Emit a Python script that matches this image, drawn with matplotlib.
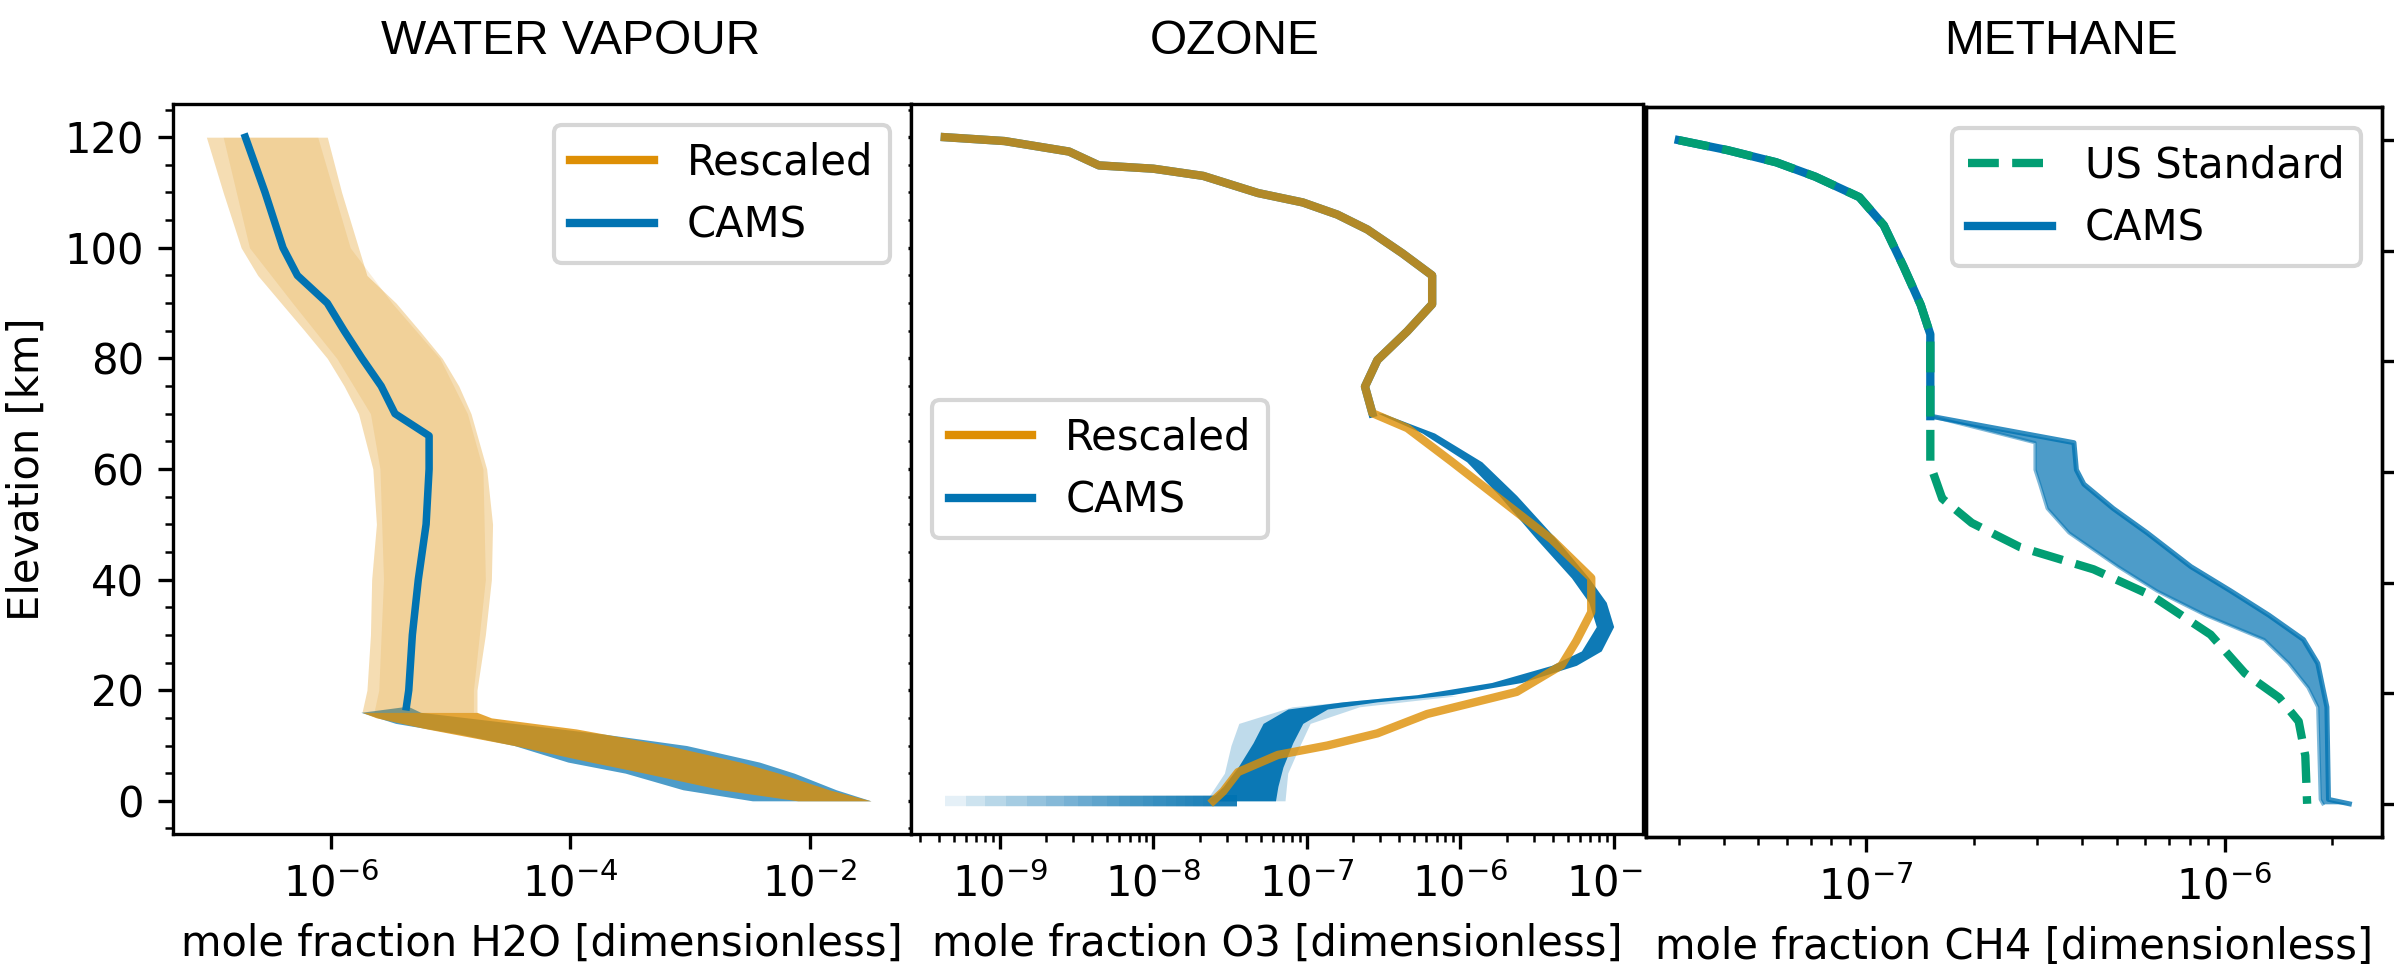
import matplotlib
matplotlib.use("Agg")
import matplotlib.pyplot as plt
from matplotlib.ticker import MultipleLocator, NullLocator
from matplotlib.lines import Line2D
from matplotlib.patches import Rectangle

BLUE = "#0173B2"
ORANGE = "#DE8F05"
GREEN = "#029E73"

# ---------------- water vapour ----------------
# CAMS profile above the tropopause (all members nearly identical)
h2o_cams_km = [120, 110, 100, 95, 90, 85, 80, 75, 70, 66, 60, 50, 40, 30, 20, 17]
h2o_cams = [1.93e-7, 2.82e-7, 3.98e-7, 5.25e-7, 9.33e-7, 1.29e-6, 1.82e-6, 2.63e-6,
            3.43e-6, 6.61e-6, 6.61e-6, 6.24e-6, 5.37e-6, 4.79e-6, 4.47e-6, 4.27e-6]
# CAMS spread in the troposphere
h2o_cams_low_km = [17, 16, 14, 12, 10, 7, 5, 2, 0]
h2o_cams_low_lo = [4.0e-6, 1.78e-6, 3.47e-6, 1.23e-5, 3.39e-5, 9.55e-5, 2.88e-4, 8.71e-4, 3.31e-3]
h2o_cams_low_hi = [4.5e-6, 5.62e-6, 3.39e-5, 2.00e-4, 9.33e-4, 3.80e-3, 7.41e-3, 1.66e-2, 3.24e-2]
# rescaled ensemble: outer envelope and denser core
h2o_resc_km = [120, 110, 100, 95, 90, 85, 80, 75, 70, 60, 50, 40, 30, 20, 16]
h2o_resc_lo = [9.12e-8, 1.26e-7, 1.78e-7, 2.45e-7, 3.84e-7, 6.03e-7, 9.33e-7, 1.29e-6,
               1.70e-6, 2.24e-6, 2.40e-6, 2.19e-6, 2.14e-6, 2.00e-6, 1.82e-6]
h2o_resc_hi = [9.33e-7, 1.23e-6, 1.70e-6, 2.00e-6, 3.50e-6, 5.50e-6, 8.51e-6, 1.17e-5,
               1.48e-5, 2.00e-5, 2.24e-5, 2.19e-5, 1.95e-5, 1.66e-5, 1.66e-5]
h2o_core_km = [120, 100, 90, 80, 70, 60, 40, 20, 16]
h2o_core_lo = [1.26e-7, 2.09e-7, 4.79e-7, 1.12e-6, 2.14e-6, 2.57e-6, 2.75e-6, 2.51e-6, 2.29e-6]
h2o_core_hi = [7.76e-7, 1.45e-6, 3.24e-6, 8.13e-6, 1.38e-5, 1.86e-5, 1.95e-5, 1.55e-5, 1.55e-5]
h2o_resc_low_km = [16, 15, 13, 10, 7, 5, 2, 0]
h2o_resc_low_lo = [1.82e-6, 2.40e-6, 6.31e-6, 3.39e-5, 1.48e-4, 4.17e-4, 1.82e-3, 7.94e-3]
h2o_resc_low_hi = [1.66e-5, 2.19e-5, 1.12e-4, 6.46e-4, 2.63e-3, 5.50e-3, 1.45e-2, 3.24e-2]

# ---------------- ozone ----------------
o3_resc_km = [120.0, 119.3, 117.4, 114.9, 114.3, 113.0, 109.9, 108.2, 106.0, 103.3, 99.0,
              95.0, 89.8, 84.9, 79.7, 74.9, 70.1, 67.4, 61.3, 54.3, 47.3, 40.3, 34.1,
              28.9, 24.5, 19.7, 15.7, 12.2, 10.0, 8.3, 5.2, 1.7, 0.0]
o3_resc = [4.37e-10, 1.07e-9, 2.82e-9, 4.41e-9, 1.00e-8, 2.11e-8, 4.80e-8, 9.40e-8,
           1.58e-7, 2.48e-7, 4.19e-7, 6.55e-7, 6.55e-7, 4.51e-7, 2.88e-7, 2.39e-7,
           2.67e-7, 4.51e-7, 8.81e-7, 1.86e-6, 3.93e-6, 7.13e-6, 7.13e-6, 5.70e-6,
           4.56e-6, 2.33e-6, 6.08e-7, 2.88e-7, 1.36e-7, 6.47e-8, 3.56e-8, 2.85e-8, 2.45e-8]
o3_cams_km = [70.1, 66.5, 61.3, 55.2, 47.3, 40.3, 35.9, 31.5, 27.1, 24.5, 21.4, 19.2,
              17.9, 16.6, 14.0, 10.5, 6.1, 2.6, 0.0]
o3_cams_lo = [2.88e-7, 5.64e-7, 1.10e-6, 1.79e-6, 3.14e-6, 5.30e-6, 6.87e-6, 7.69e-6,
              6.15e-6, 3.93e-6, 1.60e-6, 5.24e-7, 1.71e-7, 7.52e-8, 5.18e-8, 4.46e-8,
              3.56e-8, 2.85e-8, 2.28e-8]
o3_cams_hi = [3.10e-7, 6.79e-7, 1.38e-6, 2.33e-6, 4.23e-6, 6.87e-6, 8.93e-6, 9.98e-6,
              8.28e-6, 5.70e-6, 2.51e-6, 8.83e-7, 2.88e-7, 1.36e-7, 9.40e-8, 8.09e-8,
              6.98e-8, 6.47e-8, 6.24e-8]
o3_fuzz_km = [0, 5, 10, 14, 17, 19]
o3_fuzz_lo = [2.2e-8, 2.9e-8, 3.2e-8, 3.6e-8, 8.0e-8, 4.5e-7]
o3_fuzz_hi = [7.2e-8, 7.5e-8, 9.0e-8, 1.05e-7, 2.2e-7, 9.5e-7]
# surface values of the members with very little ozone
o3_surface_low = [4.4e-10, 6e-10, 8e-10, 1.1e-9, 1.5e-9, 2e-9, 2.6e-9, 3.2e-9, 4e-9, 5e-9,
                  6e-9, 7e-9, 8.5e-9, 1e-8, 1.2e-8, 1.4e-8, 1.6e-8, 1.8e-8, 2.1e-8, 2.4e-8]
o3_surface_top = 3.5e-8

# ---------------- methane ----------------
ch4_std_km = [120, 118.2, 116.0, 113.4, 109.7, 104.6, 97.2, 90.2, 84.9, 70.1, 61.3, 55.2,
              50.8, 46.4, 42.4, 37.6, 30.6, 23.6, 19.2, 14.9, 8.7, 0]
ch4_std = [3.00e-8, 4.10e-8, 5.61e-8, 7.21e-8, 9.57e-8, 1.12e-7, 1.27e-7, 1.42e-7, 1.51e-7,
           1.51e-7, 1.51e-7, 1.63e-7, 1.97e-7, 2.69e-7, 4.31e-7, 6.28e-7, 9.14e-7, 1.14e-6,
           1.42e-6, 1.61e-6, 1.68e-6, 1.70e-6]
ch4_cams_km = [70.1, 65.3, 60.4, 57.8, 53.4, 49.0, 42.9, 38.5, 34.1, 29.7, 25.4, 21.0, 17.5, 0.8, 0.0]
ch4_cams_lo = [1.51e-7, 2.96e-7, 2.96e-7, 3.05e-7, 3.20e-7, 3.68e-7, 5.04e-7, 6.47e-7, 8.85e-7,
               1.29e-6, 1.51e-6, 1.71e-6, 1.82e-6, 1.85e-6, 1.88e-6]
ch4_cams_hi = [1.51e-7, 3.80e-7, 3.86e-7, 4.05e-7, 4.89e-7, 6.08e-7, 8.05e-7, 1.04e-6, 1.33e-6,
               1.66e-6, 1.82e-6, 1.88e-6, 1.93e-6, 1.95e-6, 2.23e-6]

titles = ["WATER VAPOUR", "OZONE", "METHANE"]
xlabels = ["mole fraction H2O [dimensionless]", "mole fraction O3 [dimensionless]",
           "mole fraction CH4 [dimensionless]"]

W, H = 2394, 964
fig = plt.figure(figsize=(W / 300, H / 300), dpi=300)


def box(x0, x1, y0, y1):
    return [x0 / W, 1 - y1 / H, (x1 - x0) / W, (y1 - y0) / H]


ax1 = fig.add_axes(box(173, 911, 104, 834))
ax2 = fig.add_axes(box(911, 1643, 104, 834))
ax3 = fig.add_axes(box(1646, 2382, 107, 837))

# water vapour
ax1.fill_betweenx(h2o_core_km, h2o_core_lo, h2o_core_hi, color=ORANGE, alpha=0.15, lw=0)
ax1.plot(h2o_cams, h2o_cams_km, color=BLUE, lw=1.8)
ax1.fill_betweenx(h2o_cams_low_km, h2o_cams_low_lo, h2o_cams_low_hi, color=BLUE, alpha=0.7, lw=0)
ax1.fill_betweenx(h2o_resc_km, h2o_resc_lo, h2o_resc_hi, color=ORANGE, alpha=0.3, lw=0)
ax1.fill_betweenx(h2o_resc_low_km, h2o_resc_low_lo, h2o_resc_low_hi, color=ORANGE, alpha=0.8, lw=0)
ax1.set_xscale("log")
ax1.set_xlim(4.8e-8, 7.0e-2)
ax1.set_xticks([1e-6, 1e-4, 1e-2])
ax1.xaxis.set_minor_locator(NullLocator())
ax1.set_ylabel("Elevation [km]")

# ozone
up = [k >= 70 for k in o3_resc_km]
ax2.plot([v for v, u in zip(o3_resc, up) if u], [k for k, u in zip(o3_resc_km, up) if u],
         color=BLUE, lw=2)
ax2.fill_betweenx(o3_fuzz_km, o3_fuzz_lo, o3_fuzz_hi, color=BLUE, alpha=0.25, lw=0)
ax2.fill_betweenx(o3_cams_km, o3_cams_lo, o3_cams_hi, color=BLUE, alpha=0.95, lw=0)
for v in o3_surface_low:
    ax2.plot([v, o3_surface_top], [0, 0], color=BLUE, lw=2.5, alpha=0.1, solid_capstyle="butt")
ax2.plot(o3_resc, o3_resc_km, color=ORANGE, lw=2, alpha=0.8)
ax2.set_xscale("log")
ax2.set_xlim(2.63e-10, 1.55e-5)
ax2.tick_params(axis="y", which="both", length=0.8, labelleft=False)

# methane
up = [k >= 70 for k in ch4_std_km]
ax3.plot([v for v, u in zip(ch4_std, up) if u], [k for k, u in zip(ch4_std_km, up) if u],
         color=BLUE, lw=2)
ax3.fill_betweenx(ch4_cams_km, ch4_cams_lo, ch4_cams_hi, color=BLUE, alpha=0.7, lw=0)
ax3.plot(ch4_cams_lo, ch4_cams_km, color=BLUE, lw=0.8, alpha=0.5)
ax3.plot(ch4_cams_hi, ch4_cams_km, color=BLUE, lw=1.2, alpha=0.8)
ax3.plot(ch4_std, ch4_std_km, color=GREEN, lw=2, ls="--")
ax3.set_xscale("log")
ax3.set_xlim(2.43e-8, 2.75e-6)
ax3.tick_params(axis="y", which="both", length=1.0, labelleft=False)
ax3r = ax3.twinx()
ax3r.set_ylim(-6, 126)
ax3r.yaxis.set_major_locator(MultipleLocator(20))
ax3r.yaxis.set_minor_locator(NullLocator())
ax3r.tick_params(labelright=False)

for ax, xl in zip([ax1, ax2, ax3], xlabels):
    ax.set_ylim(-6, 126)
    ax.yaxis.set_major_locator(MultipleLocator(20))
    ax.yaxis.set_minor_locator(MultipleLocator(5))
    ax.set_xlabel(xl)

hl = [Line2D([], [], color=ORANGE, lw=2), Line2D([], [], color=BLUE, lw=2)]
ax1.legend(hl, ["Rescaled", "CAMS"], loc="upper right")
ax2.legend(hl, ["Rescaled", "CAMS"], loc="center left")
ax3.legend([Line2D([], [], color=GREEN, lw=2, ls="--"), Line2D([], [], color=BLUE, lw=2)],
           ["US Standard", "CAMS"], loc="upper right")

# panel 3 sits on top and hides the overflow of the last ozone tick label
ax3.set_zorder(2)
ax3r.set_zorder(2.1)
fig.add_artist(Rectangle((1644 / W, 0), 1 - 1644 / W, 1 - 838 / H, transform=fig.transFigure,
                         facecolor="white", edgecolor="none", zorder=1))

for t, xc in zip(titles, [571, 1235, 2061]):
    fig.text(xc / W, 1 - 41 / H, t, ha="center", va="center", fontsize=11.5,
             family="Liberation Sans")

fig.savefig("out.png", dpi=300)
